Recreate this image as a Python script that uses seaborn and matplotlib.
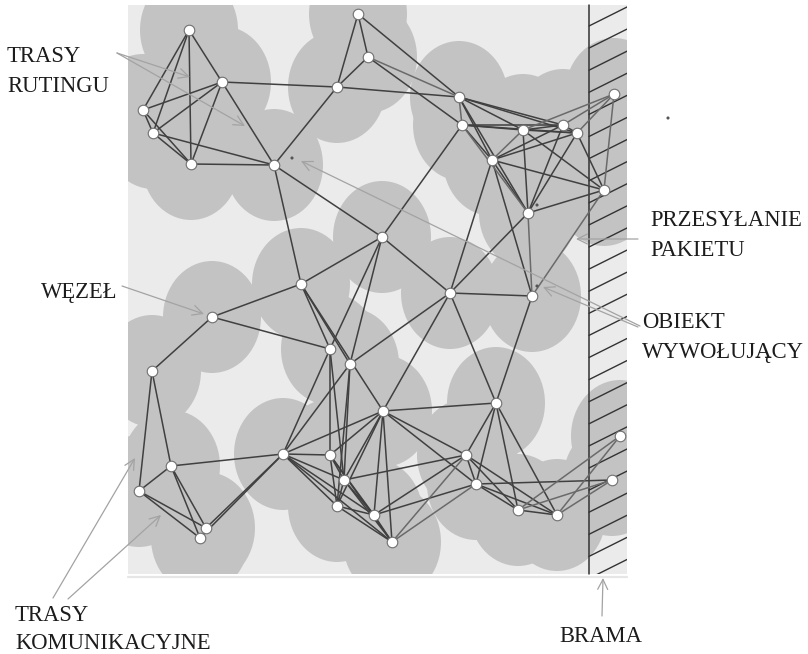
# Sensor network diagram: nodes, coverage areas, routes and gateway zone
import numpy as np
import pandas as pd
import matplotlib.pyplot as plt
from matplotlib.markers import MarkerStyle
from matplotlib.patches import Rectangle
from matplotlib.path import Path
import seaborn as sns

# Node positions
node_names = ['A', 'B', 'C', 'D', 'E', 'F', 'G', 'H', 'I', 'J', 'K', 'L', 'M', 'N', 'O', 'P', 'Q', 'R',
              'S', 'T', 'U', 'V', 'W', 'X', 'Y', 'Z', 'a', 'b', 'c', 'd', 'e', 'f', 'g', 'h', 'i', 'j',
              'k', 'l', 'm', 'o', 'p', 'q', 'r', 's']
node_x = [189, 222, 143, 153, 191, 274, 337, 358, 368, 459, 462, 523, 563, 577, 614, 492, 604, 528,
          382, 301, 450, 532, 330, 350, 212, 152, 139, 171, 206, 200, 283, 330, 344, 337, 374, 383,
          392, 466, 496, 476, 518, 557, 620, 612]
node_y = [30, 82, 110, 133, 164, 165, 87, 14, 57, 97, 125, 130, 125, 133, 94, 160, 190, 213,
          237, 284, 293, 296, 349, 364, 317, 371, 491, 466, 528, 538, 454, 455, 480, 506, 515, 411,
          542, 455, 403, 484, 510, 515, 436, 480]

# Routes
dark_edges = ['AB', 'AC', 'AD', 'AE', 'BC', 'BD', 'BE', 'BF', 'BG', 'CD', 'CE', 'DE', 'DF', 'EF', 'FG', 'FS', 'FT',
              'HG', 'HI', 'HJ', 'GI', 'IK', 'GJ', 'KS',
              'JL', 'JM', 'JN', 'JP', 'KP', 'JR', 'KL', 'KM', 'KN', 'LM', 'LN', 'LQ', 'MN', 'MP', 'MR',
              'NP', 'NQ', 'NR', 'PQ', 'RQ', 'PR', 'PU', 'PV', 'RU', 'LR',
              'ST', 'SU', 'SW', 'SX', 'TW', 'TX', 'Tj', 'TY', 'UV', 'UX', 'Uj', 'Um', 'Vm', 'YW', 'YZ',
              'Za', 'Zb', 'ab', 'ac', 'ad', 'bc', 'bd', 'be', 'ce', 'de',
              'ef', 'ej', 'eX', 'eW', 'eg', 'eh', 'ei', 'ek', 'fW', 'fh', 'fj', 'fg', 'fi', 'fk',
              'gW', 'gX', 'gj', 'gl', 'gh', 'gi', 'gk', 'hX', 'hj', 'hi', 'hk', 'ij', 'ik', 'il', 'io',
              'jk', 'jl', 'jo', 'jm', 'lm', 'om', 'lo', 'lp', 'lq', 'op', 'oq', 'mp', 'mq', 'pq', 'os']
gray_edges = ['IJ', 'JK', 'KR', 'LP', 'LO', 'MO', 'NO', 'OQ', 'QV', 'RV', 'kl', 'ko', 'pr', 'ps', 'qr', 'qs']

# Small dots: objects that trigger a report
event_x = [292, 537, 537, 668]
event_y = [158, 205, 286, 118]

# Labels
label_texts = ['TRASY', 'RUTINGU', 'WĘZEŁ', 'TRASY', 'KOMUNIKACYJNE', 'PRZESYŁANIE', 'PAKIETU',
               'OBIEKT', 'WYWOŁUJĄCY', 'BRAMA']
label_x = [7, 7, 41, 15, 15, 650, 650, 642, 642, 559]
label_y = [62, 92, 298, 621, 649, 226, 256, 328, 358, 642]

# Pointer arrows: start and end
arrow_x0 = [117, 117, 122, 53, 68, 638, 640, 638, 602]
arrow_y0 = [53, 53, 286, 598, 599, 239, 326, 327, 616]
arrow_x1 = [190, 245, 204, 135, 161, 576, 301, 543, 603]
arrow_y1 = [77, 126, 314, 458, 515, 239, 161, 287, 578]

nodes = pd.DataFrame({'x': node_x, 'y': node_y}, index=node_names)


def edge_table(edges):
    rows = []
    for edge in edges:
        for name in edge:
            rows.append({'edge': edge, 'x': nodes.loc[name, 'x'], 'y': nodes.loc[name, 'y']})
    return pd.DataFrame(rows)


sns.set_theme(style='white')
plt.rcParams['font.family'] = ['Liberation Serif', 'DejaVu Serif']

fig = plt.figure(figsize=(8.08, 6.54), dpi=100)
ax = fig.add_axes([0, 0, 1, 1])

# Background panel
panel = Rectangle((128, 5), 499, 569, facecolor='#ebebeb', edgecolor='none', zorder=1)
ax.add_patch(panel)
ax.plot([128, 627], [577, 577], color='#e6e6e6', lw=1.6, zorder=1)

# Coverage areas, slightly taller than wide like the source image
ellipse = Path(Path.unit_circle().vertices * [0.875, 1.0], Path.unit_circle().codes)
sns.scatterplot(data=nodes, x='x', y='y', marker=MarkerStyle(ellipse), s=6500, color='#c3c3c3',
                edgecolor='none', linewidth=0, alpha=1, zorder=2, legend=False, ax=ax)
ax.collections[-1].set_clip_path(panel)

# Gateway zone
ax.plot([589, 589], [5, 574], color='#333333', lw=1.1, zorder=3)
for start in 26 + 22.1 * np.arange(26):
    line, = ax.plot([589, 627], [start, start - 19], color='#333333', lw=1.0, zorder=3)
    line.set_clip_path(panel)

# Routes
sns.lineplot(data=edge_table(dark_edges), x='x', y='y', units='edge', estimator=None, sort=False,
             color='#404040', lw=1.1, zorder=4, legend=False, ax=ax)
sns.lineplot(data=edge_table(gray_edges), x='x', y='y', units='edge', estimator=None, sort=False,
             color='#6a6a6a', lw=1.1, zorder=4, legend=False, ax=ax)

# Nodes and event dots
sns.scatterplot(data=nodes, x='x', y='y', s=58, color='white', edgecolor='#707070', linewidth=0.8,
                zorder=5, legend=False, ax=ax)
sns.scatterplot(x=event_x, y=event_y, s=5, color='#555555', edgecolor='none', zorder=5, legend=False, ax=ax)

# Pointer arrows
for x0, y0, x1, y1 in zip(arrow_x0, arrow_y0, arrow_x1, arrow_y1):
    ax.annotate('', xy=(x1, y1), xytext=(x0, y0), zorder=6,
                arrowprops=dict(arrowstyle='->,head_length=0.6,head_width=0.3', color='#a3a3a3', lw=0.9,
                                shrinkA=0, shrinkB=0))

for text, x, y in zip(label_texts, label_x, label_y):
    ax.text(x, y, text, fontsize=16.3, color='#1c1c1c', ha='left', va='baseline', zorder=7)

ax.set_xlim(0, 808)
ax.set_ylim(654, 0)
ax.axis('off')

fig.savefig('out.png', dpi=100)
